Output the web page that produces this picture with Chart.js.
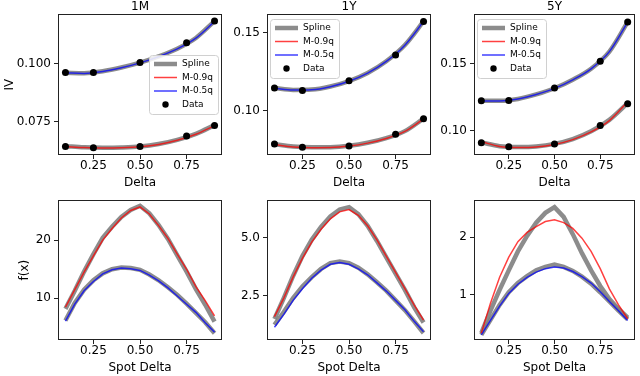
<!DOCTYPE html>
<html>
<head>
<meta charset="utf-8">
<script src="https://cdn.jsdelivr.net/npm/chart.js@4.4.0/dist/chart.umd.min.js"></script>
<style>
  html, body { margin: 0; padding: 0; background: #fff; }
  #figure { position: relative; width: 640px; height: 376px; overflow: hidden; background: #fff; }
  #figure canvas { position: absolute; }
</style>
</head>
<body>
<div id="figure">
  <canvas id="iv1m" width="226" height="192" style="left:0px;top:0px"></canvas>
  <canvas id="iv1y" width="210" height="192" style="left:226px;top:0px"></canvas>
  <canvas id="iv5y" width="204" height="192" style="left:436px;top:0px"></canvas>
  <canvas id="fx1m" width="226" height="186" style="left:0px;top:190px"></canvas>
  <canvas id="fx1y" width="210" height="186" style="left:226px;top:190px"></canvas>
  <canvas id="fx5y" width="204" height="186" style="left:436px;top:190px"></canvas>
</div>
<script>
// x positions
const deltaKnots = [0.1, 0.25, 0.5, 0.75, 0.9];
const deltaGrid = [0.1, 0.2, 0.3, 0.4, 0.5, 0.6, 0.7, 0.8, 0.9];
const spotGrid = [0.1, 0.15, 0.2, 0.25, 0.3, 0.35, 0.4, 0.45, 0.5, 0.55, 0.6, 0.65, 0.7, 0.75, 0.8, 0.85, 0.9];
const xTicks = [0.25, 0.5, 0.75];
const xTickLabels = ['0.25', '0.50', '0.75'];
const tenors = ['1M', '1Y', '5Y'];
const legendLabels = ['Spline', 'M-0.9q', 'M-0.5q', 'Data'];

// top row: implied vol, 1M
const iv1mLowData = [0.0644, 0.0639, 0.0644, 0.0690, 0.0735];
const iv1mHighData = [0.0962, 0.0962, 0.1005, 0.1089, 0.1183];
const iv1mSplineLow = [0.0646, 0.0641, 0.0639, 0.0640, 0.0644, 0.0655, 0.0673, 0.0699, 0.0736];
const iv1mRed = [0.0644, 0.0640, 0.0638, 0.0639, 0.0643, 0.0653, 0.0671, 0.0697, 0.0734];
const iv1mSplineHigh = [0.0961, 0.0959, 0.0967, 0.0983, 0.1004, 0.1031, 0.1064, 0.1110, 0.1182];
const iv1mBlue = [0.0960, 0.0958, 0.0966, 0.0982, 0.1003, 0.1030, 0.1063, 0.1109, 0.1181];
const iv1mTicks = [0.075, 0.100];
const iv1mTickLabels = ['0.075', '0.100'];

// 1Y
const iv1yLowData = [0.0788, 0.0766, 0.0775, 0.0850, 0.0949];
const iv1yHighData = [0.1146, 0.1131, 0.1193, 0.1358, 0.1573];
const iv1ySplineLow = [0.0786, 0.0771, 0.0766, 0.0767, 0.0776, 0.0795, 0.0825, 0.0870, 0.0950];
const iv1yRed = [0.0784, 0.0769, 0.0764, 0.0765, 0.0774, 0.0793, 0.0823, 0.0868, 0.0948];
const iv1ySplineHigh = [0.1146, 0.1134, 0.1136, 0.1156, 0.1191, 0.1243, 0.1318, 0.1422, 0.1573];
const iv1yBlue = [0.1145, 0.1133, 0.1135, 0.1155, 0.1190, 0.1242, 0.1317, 0.1421, 0.1572];
const iv1yTicks = [0.10, 0.15];
const iv1yTickLabels = ['0.10', '0.15'];

// 5Y
const iv5yLowData = [0.0910, 0.0880, 0.0900, 0.1038, 0.1200];
const iv5yHighData = [0.1223, 0.1225, 0.1318, 0.1517, 0.1810];
const iv5ySplineLow = [0.0912, 0.0884, 0.0878, 0.0882, 0.0901, 0.0937, 0.0995, 0.1080, 0.1205];
const iv5yRed = [0.0918, 0.0882, 0.0874, 0.0878, 0.0897, 0.0933, 0.0990, 0.1075, 0.1215];
const iv5ySplineHigh = [0.1222, 0.1222, 0.1236, 0.1270, 0.1316, 0.1380, 0.1462, 0.1590, 0.1810];
const iv5yBlue = [0.1221, 0.1221, 0.1235, 0.1269, 0.1315, 0.1379, 0.1461, 0.1589, 0.1809];
const iv5yTicks = [0.10, 0.15];
const iv5yTickLabels = ['0.10', '0.15'];

// bottom row: f(x)
const fx1mRed = [8.5, 11.5, 14.5, 17.3, 20.0, 22.0, 23.8, 25.1, 25.7, 24.5, 22.5, 20.3, 17.6, 15.0, 12.0, 9.6, 7.0];
const fx1mSplineHigh = [8.2, 11.3, 14.6, 17.6, 20.4, 22.3, 24.0, 25.2, 25.9, 24.6, 22.6, 20.2, 17.4, 14.6, 11.6, 8.9, 6.0];
const fx1mBlue = [6.1, 9.0, 11.3, 12.9, 14.2, 14.9, 15.2, 15.1, 14.8, 14.0, 13.0, 11.8, 10.4, 9.0, 7.6, 5.8, 4.2];
const fx1mSplineLow = [6.2, 9.2, 11.5, 13.1, 14.3, 15.0, 15.3, 15.2, 14.9, 14.1, 13.1, 11.9, 10.6, 9.1, 7.5, 5.9, 4.0];
const fx1mTicks = [10, 20];
const fx1mTickLabels = ['10', '20'];

const fx1yRed = [1.6, 2.4, 3.3, 4.1, 4.8, 5.35, 5.8, 6.1, 6.2, 5.95, 5.5, 4.9, 4.2, 3.5, 2.8, 2.1, 1.45];
const fx1ySplineHigh = [1.5, 2.4, 3.35, 4.2, 4.9, 5.45, 5.9, 6.2, 6.3, 6.0, 5.5, 4.85, 4.15, 3.45, 2.75, 2.0, 1.35];
const fx1yBlue = [1.15, 1.7, 2.3, 2.8, 3.25, 3.6, 3.85, 3.93, 3.85, 3.65, 3.4, 3.05, 2.7, 2.3, 1.9, 1.4, 0.95];
const fx1ySplineLow = [1.25, 1.8, 2.4, 2.9, 3.3, 3.65, 3.9, 3.97, 3.9, 3.7, 3.42, 3.08, 2.72, 2.3, 1.88, 1.4, 0.9];
const fx1yTicks = [2.5, 5.0];
const fx1yTickLabels = ['2.5', '5.0'];

const fx5yRed = [0.33, 0.85, 1.3, 1.65, 1.92, 2.08, 2.18, 2.27, 2.30, 2.25, 2.15, 1.98, 1.75, 1.45, 1.1, 0.82, 0.58];
const fx5ySplineHigh = [0.33, 0.72, 1.08, 1.42, 1.75, 2.02, 2.25, 2.42, 2.52, 2.35, 2.05, 1.72, 1.42, 1.15, 0.92, 0.75, 0.6];
const fx5yBlue = [0.3, 0.55, 0.8, 1.02, 1.18, 1.3, 1.39, 1.45, 1.48, 1.46, 1.40, 1.31, 1.2, 1.05, 0.88, 0.72, 0.55];
const fx5ySplineLow = [0.3, 0.56, 0.82, 1.04, 1.2, 1.32, 1.42, 1.48, 1.52, 1.48, 1.41, 1.31, 1.19, 1.04, 0.88, 0.72, 0.57];
const fx5yTicks = [1, 2];
const fx5yTickLabels = ['1', '2'];

const GRAY = 'rgba(128,128,128,0.9)';
const RED = 'rgba(255,0,0,0.75)';
const BLUE = 'rgba(0,0,255,0.75)';

Chart.defaults.font.family = '"DejaVu Sans", sans-serif';
Chart.defaults.font.size = 12;
Chart.defaults.color = '#000';

function pts(xs, ys) {
  return xs.map((x, i) => ({ x: x, y: ys[i] }));
}

// box around the axes, drawn over the lines like matplotlib spines
const frame = {
  id: 'frame',
  afterDatasetsDraw(chart) {
    const { ctx, chartArea: a } = chart;
    ctx.save();
    ctx.strokeStyle = '#222';
    ctx.lineWidth = 1;
    ctx.strokeRect(Math.round(a.left) + 0.5, Math.round(a.top) + 0.5,
      Math.round(a.right - a.left) - 1, Math.round(a.bottom - a.top) - 1);
    ctx.restore();
  }
};

// matplotlib style legend box inside the axes
const boxLegend = {
  id: 'boxLegend',
  afterDraw(chart, args, opts) {
    if (!opts.where) return;
    const { ctx, chartArea: a } = chart;
    const w = 69, h = 59;
    let x0, y0;
    if (opts.where === 'right') {
      x0 = a.right - 4 - w;
      y0 = (a.top + a.bottom) / 2 - h / 2;
    } else {
      x0 = a.left + 3;
      y0 = a.top + 4.5;
    }
    x0 = Math.round(x0); y0 = Math.round(y0);
    ctx.save();
    ctx.fillStyle = 'rgba(255,255,255,0.85)';
    ctx.strokeStyle = '#d0d0d0';
    ctx.lineWidth = 1;
    ctx.beginPath();
    ctx.roundRect(x0 + 0.5, y0 + 0.5, w, h, 3);
    ctx.fill();
    ctx.stroke();
    const styles = [
      { color: GRAY, width: 4.5 },
      { color: RED, width: 1.5 },
      { color: BLUE, width: 1.5 },
      { dot: true }
    ];
    ctx.font = '9px "DejaVu Sans"';
    ctx.textBaseline = 'middle';
    legendLabels.forEach((label, i) => {
      const y = y0 + 9 + 13.5 * i;
      const s = styles[i];
      if (s.dot) {
        ctx.fillStyle = '#000';
        ctx.beginPath();
        ctx.arc(x0 + 16.5, y, 3.2, 0, Math.PI * 2);
        ctx.fill();
      } else {
        ctx.strokeStyle = s.color;
        ctx.lineWidth = s.width;
        ctx.beginPath();
        ctx.moveTo(x0 + 5, y);
        ctx.lineTo(x0 + 28, y);
        ctx.stroke();
      }
      ctx.fillStyle = '#000';
      ctx.fillText(label, x0 + 33, y);
    });
    ctx.restore();
  }
};

function curve(xs, ys, color, width, smooth) {
  return {
    data: pts(xs, ys),
    borderColor: color,
    borderWidth: width,
    pointRadius: 0,
    fill: false,
    cubicInterpolationMode: smooth ? 'monotone' : 'default',
    tension: 0,
    order: color === GRAY ? 3 : 2
  };
}

function dots(xs, ys) {
  return {
    data: pts(xs, ys),
    showLine: false,
    pointRadius: 3.5,
    pointBackgroundColor: '#000',
    pointBorderWidth: 0,
    order: 1
  };
}

function makePanel(id, p) {
  new Chart(document.getElementById(id), {
    type: 'line',
    data: { datasets: p.datasets },
    plugins: [frame, boxLegend],
    options: {
      responsive: false,
      animation: false,
      devicePixelRatio: 1,
      layout: { padding: { top: p.padTop, right: p.padRight, left: 0, bottom: 0 } },
      plugins: {
        legend: { display: false },
        tooltip: { enabled: false },
        title: {
          display: !!p.title,
          text: p.title,
          fullSize: false,
          font: { size: 12, weight: 'normal' },
          padding: { top: 0, bottom: 0 }
        },
        boxLegend: { where: p.legend }
      },
      scales: {
        x: {
          type: 'linear',
          min: 0.06,
          max: 0.94,
          afterBuildTicks: (axis) => { axis.ticks = xTicks.map(v => ({ value: v })); },
          afterFit: (axis) => { axis.height = p.xHeight; },
          ticks: {
            padding: 0,
            callback: (v) => xTickLabels[xTicks.indexOf(v)]
          },
          grid: { drawOnChartArea: false, drawTicks: true, tickLength: 4, color: '#222' },
          border: { display: false },
          title: { display: true, text: p.xTitle, font: { size: 12 }, padding: { top: 0, bottom: p.xTitlePad } }
        },
        y: {
          type: 'linear',
          min: p.yMin,
          max: p.yMax,
          afterBuildTicks: (axis) => { axis.ticks = p.yTicks.map(v => ({ value: v })); },
          afterFit: (axis) => { axis.width = p.yWidth; },
          ticks: {
            padding: 3,
            callback: (v) => p.yTickLabels[p.yTicks.indexOf(v)]
          },
          grid: { drawOnChartArea: false, drawTicks: true, tickLength: 4, color: '#222' },
          border: { display: false },
          title: { display: !!p.yTitle, text: p.yTitle, font: { size: 12 }, padding: { top: p.yTitlePad || 0, bottom: 0 } }
        }
      }
    }
  });
}

// top row
const topRow = [
  { id: 'iv1m', yMin: 0.0608, yMax: 0.1211, yTicks: iv1mTicks, yTickLabels: iv1mTickLabels, yWidth: 58, padRight: 4,
    yTitle: 'IV', yTitlePad: 3, legend: 'right',
    low: [iv1mLowData, iv1mSplineLow, iv1mRed], high: [iv1mHighData, iv1mSplineHigh, iv1mBlue] },
  { id: 'iv1y', yMin: 0.0717, yMax: 0.1618, yTicks: iv1yTicks, yTickLabels: iv1yTickLabels, yWidth: 41, padRight: 5,
    legend: 'upperleft',
    low: [iv1yLowData, iv1ySplineLow, iv1yRed], high: [iv1yHighData, iv1ySplineHigh, iv1yBlue] },
  { id: 'iv5y', yMin: 0.0818, yMax: 0.1867, yTicks: iv5yTicks, yTickLabels: iv5yTickLabels, yWidth: 38, padRight: 5,
    legend: 'upperleft',
    low: [iv5yLowData, iv5ySplineLow, iv5yRed], high: [iv5yHighData, iv5ySplineHigh, iv5yBlue] }
];

topRow.forEach((p, k) => {
  p.title = tenors[k];
  p.padTop = 0;
  p.xTitle = 'Delta';
  p.xHeight = 37;
  p.xTitlePad = 2;
  p.datasets = [
    dots(deltaKnots, p.low[0]),
    dots(deltaKnots, p.high[0]),
    curve(deltaGrid, p.low[2], RED, 1.5, true),
    curve(deltaGrid, p.high[2], BLUE, 1.5, true),
    curve(deltaGrid, p.low[1], GRAY, 4.5, true),
    curve(deltaGrid, p.high[1], GRAY, 4.5, true)
  ];
  makePanel(p.id, p);
});

// bottom row
const bottomRow = [
  { id: 'fx1m', yMin: 2.85, yMax: 26.86, yTicks: fx1mTicks, yTickLabels: fx1mTickLabels, yWidth: 58, padRight: 4,
    yTitle: 'f(x)', yTitlePad: 18, series: [fx1mSplineHigh, fx1mRed, fx1mSplineLow, fx1mBlue] },
  { id: 'fx1y', yMin: 0.60, yMax: 6.60, yTicks: fx1yTicks, yTickLabels: fx1yTickLabels, yWidth: 41, padRight: 5,
    series: [fx1ySplineHigh, fx1yRed, fx1ySplineLow, fx1yBlue] },
  { id: 'fx5y', yMin: 0.21, yMax: 2.64, yTicks: fx5yTicks, yTickLabels: fx5yTickLabels, yWidth: 38, padRight: 5,
    series: [fx5ySplineHigh, fx5yRed, fx5ySplineLow, fx5yBlue] }
];

bottomRow.forEach((p) => {
  p.padTop = 10;
  p.xTitle = 'Spot Delta';
  p.xHeight = 36;
  p.xTitlePad = 1;
  p.datasets = [
    curve(spotGrid, p.series[1], RED, 1.5, false),
    curve(spotGrid, p.series[3], BLUE, 1.5, false),
    curve(spotGrid, p.series[0], GRAY, 4.5, false),
    curve(spotGrid, p.series[2], GRAY, 4.5, false)
  ];
  makePanel(p.id, p);
});
</script>
</body>
</html>
